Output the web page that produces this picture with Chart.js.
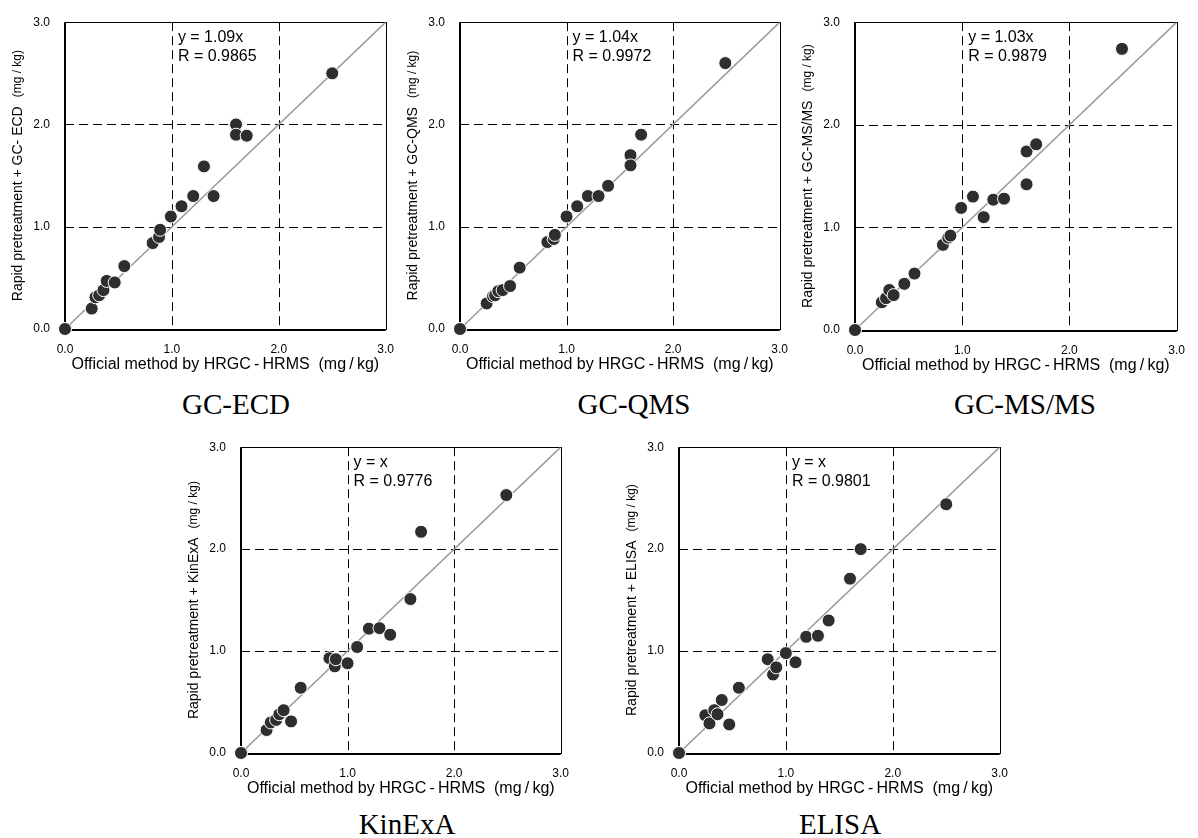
<!DOCTYPE html>
<html><head><meta charset="utf-8">
<script src="https://cdn.jsdelivr.net/npm/chart.js@4.4.1/dist/chart.umd.min.js"></script>
<style>
html,body{margin:0;padding:0;background:#fff;}
body{width:1198px;height:838px;position:relative;overflow:hidden;}
canvas{position:absolute;}
.ttl{position:absolute;font-family:"Liberation Serif","Times New Roman",serif;font-size:29px;line-height:29px;color:#000;transform:translateX(-50%);white-space:nowrap;}
</style></head><body>
<script>
// ---- data ----
const axisTicks = [0, 1, 2, 3];
const panelTitles = ["GC-ECD", "GC-QMS", "GC-MS/MS", "KinExA", "ELISA"];
const yTitleMain = ["Rapid pretreatment + GC- ECD", "Rapid pretreatment + GC-QMS", "Rapid pretreatment + GC-MS/MS", "Rapid pretreatment + KinExA", "Rapid pretreatment + ELISA"];
const yTitleUnit = "(mg / kg)";
const xTitle = "Official method by HRGC\u2009-\u2009HRMS  (mg\u2009/\u2009kg)";
const equations = ["y = 1.09x", "y = 1.04x", "y = 1.03x", "y = x", "y = x"];
const rLabels = ["R = 0.9865", "R = 0.9972", "R = 0.9879", "R = 0.9776", "R = 0.9801"];
const lineX = [0, 3];
const lineY = [0, 3];

const ecdX = [0, 0.25, 0.285, 0.32, 0.36, 0.39, 0.465, 0.555, 0.82, 0.88, 0.89, 0.99, 1.09, 1.20, 1.30, 1.39, 1.60, 1.60, 1.70, 2.50];
const ecdY = [0, 0.20, 0.31, 0.33, 0.38, 0.47, 0.455, 0.615, 0.84, 0.90, 0.97, 1.10, 1.20, 1.30, 1.59, 1.30, 2.00, 1.90, 1.89, 2.50];

const qmsX = [0, 0.25, 0.31, 0.33, 0.36, 0.40, 0.47, 0.56, 0.82, 0.88, 0.89, 1.00, 1.10, 1.20, 1.30, 1.39, 1.60, 1.60, 1.70, 2.49];
const qmsY = [0, 0.25, 0.32, 0.33, 0.37, 0.38, 0.42, 0.60, 0.85, 0.88, 0.92, 1.10, 1.20, 1.30, 1.30, 1.40, 1.70, 1.60, 1.90, 2.60];

const msmsX = [0, 0.25, 0.29, 0.32, 0.36, 0.46, 0.555, 0.82, 0.87, 0.89, 0.99, 1.10, 1.20, 1.29, 1.39, 1.60, 1.60, 1.69, 2.49];
const msmsY = [0, 0.27, 0.31, 0.39, 0.34, 0.45, 0.55, 0.83, 0.90, 0.92, 1.19, 1.30, 1.10, 1.27, 1.28, 1.74, 1.42, 1.81, 2.74];

const kinexaX = [0, 0.24, 0.28, 0.33, 0.36, 0.40, 0.47, 0.56, 0.83, 0.88, 0.89, 1.00, 1.09, 1.20, 1.30, 1.40, 1.59, 1.69, 2.49];
const kinexaY = [0, 0.225, 0.30, 0.325, 0.38, 0.42, 0.31, 0.64, 0.93, 0.85, 0.92, 0.88, 1.04, 1.22, 1.225, 1.16, 1.51, 2.17, 2.53];

const elisaX = [0, 0.246, 0.285, 0.33, 0.36, 0.40, 0.47, 0.56, 0.83, 0.88, 0.91, 1.00, 1.09, 1.19, 1.30, 1.40, 1.60, 1.70, 2.50];
const elisaY = [0, 0.37, 0.29, 0.42, 0.38, 0.52, 0.28, 0.64, 0.92, 0.77, 0.84, 0.98, 0.89, 1.14, 1.15, 1.30, 1.71, 2.00, 2.44];

const seriesX = [ecdX, qmsX, msmsX, kinexaX, elisaX];
const seriesY = [ecdY, qmsY, msmsY, kinexaY, elisaY];

// ---- layout (plot-area rectangles in page pixels) ----
const layout = [
  {l: 65,  t: 17,  r: 398,  b: 329, tx: 236,  ty: 390},
  {l: 460, t: 17,  r: 792,  b: 329, tx: 634,  ty: 390},
  {l: 855, t: 17,  r: 1189, b: 330, tx: 1025, ty: 390},
  {l: 241, t: 442, r: 573,  b: 753, tx: 407,  ty: 810},
  {l: 679, t: 442, r: 1012, b: 753, tx: 840,  ty: 810}
];
const ML = 64, MT = 17, MR = 9, MB = 50;
const SANS = '"Liberation Sans", Arial, sans-serif';

const framePlugin = {
  id: 'frame',
  beforeDatasetsDraw(chart) {
    const {ctx, chartArea: a, scales: {x, y}} = chart;
    ctx.save();
    ctx.strokeStyle = '#000';
    ctx.lineWidth = 1;
    ctx.setLineDash([9, 5]);
    axisTicks.forEach(v => {
      if (v === 0) return;
      const px = Math.round(x.getPixelForValue(v)) + 0.5;
      ctx.beginPath(); ctx.moveTo(px, a.top); ctx.lineTo(px, a.bottom); ctx.stroke();
      const py = Math.round(y.getPixelForValue(v)) + 0.5;
      ctx.beginPath(); ctx.moveTo(a.left, py); ctx.lineTo(a.right, py); ctx.stroke();
    });
    ctx.setLineDash([]);
    ctx.strokeRect(Math.round(a.left) + 0.5, Math.round(a.top) + 0.5, Math.round(a.right - a.left), Math.round(a.bottom - a.top));
    ctx.lineWidth = 2;
    ctx.beginPath();
    ctx.moveTo(a.left, a.top); ctx.lineTo(a.left, a.bottom + 1); ctx.lineTo(a.right, a.bottom + 1);
    ctx.stroke();
    ctx.restore();
  },
  afterDraw(chart) {
    const {ctx, chartArea: a, scales: {x}} = chart;
    const i = chart.options.plugins.frame.idx;
    ctx.save();
    ctx.fillStyle = '#000';
    // annotation
    ctx.font = '16px ' + SANS;
    ctx.textAlign = 'left';
    ctx.textBaseline = 'middle';
    const ax = x.getPixelForValue(1) + 6;
    ctx.fillText(equations[i], ax, a.top + 15);
    ctx.fillText(rLabels[i], ax, a.top + 34);
    // x title
    ctx.textAlign = 'center';
    ctx.fillText(xTitle, (a.left + a.right) / 2, a.bottom + 36);
    // y title
    ctx.translate(a.left - 47, (a.top + a.bottom) / 2);
    ctx.rotate(-Math.PI / 2);
    ctx.font = '14px ' + SANS;
    const w1 = ctx.measureText(yTitleMain[i]).width;
    ctx.font = '12px ' + SANS;
    const w2 = ctx.measureText(yTitleUnit).width;
    const gap = 9;
    const total = w1 + gap + w2;
    ctx.textAlign = 'left';
    ctx.font = '14px ' + SANS;
    ctx.fillText(yTitleMain[i], -total / 2, 0);
    ctx.font = '12px ' + SANS;
    ctx.fillText(yTitleUnit, -total / 2 + w1 + gap, 0);
    ctx.restore();
  }
};

layout.forEach((p, i) => {
  const W = (p.r - p.l) + ML + MR;
  const H = (p.b - p.t) + MT + MB;
  const c = document.createElement('canvas');
  c.width = W; c.height = H;
  c.style.left = (p.l - ML) + 'px';
  c.style.top = (p.t - MT) + 'px';
  c.style.width = W + 'px'; c.style.height = H + 'px';
  document.body.appendChild(c);

  const t = document.createElement('div');
  t.className = 'ttl';
  t.textContent = panelTitles[i];
  t.style.left = p.tx + 'px';
  t.style.top = p.ty + 'px';
  document.body.appendChild(t);

  const pts = seriesX[i].map((v, k) => ({x: v, y: seriesY[i][k]}));
  const ref = lineX.map((v, k) => ({x: v, y: lineY[k]}));

  new Chart(c, {
    type: 'scatter',
    data: {
      datasets: [
        {
          data: pts, order: 0, clip: false,
          pointRadius: 6.5, pointHoverRadius: 6.5,
          pointBackgroundColor: '#2e2e2e', pointBorderColor: '#ffffff', pointBorderWidth: 1
        },
        {
          type: 'line', data: ref, order: 1, showLine: true,
          borderColor: '#9a9a9a', borderWidth: 1.5, pointRadius: 0, fill: false
        }
      ]
    },
    options: {
      responsive: false, animation: false, devicePixelRatio: 1,
      layout: {padding: {left: 0, top: MT, right: MR, bottom: 0}},
      plugins: {legend: {display: false}, tooltip: {enabled: false}, frame: {idx: i}},
      events: [],
      scales: {
        x: {
          type: 'linear', min: 0, max: 3,
          afterBuildTicks: s => { s.ticks = axisTicks.map(v => ({value: v})); },
          afterFit: s => { s.height = MB; },
          grid: {display: false, drawTicks: false}, border: {display: false},
          ticks: {padding: 13, color: '#000', font: {family: SANS, size: 12}, maxRotation: 0,
                  callback: v => Number(v).toFixed(1)}
        },
        y: {
          type: 'linear', min: 0, max: 3,
          afterBuildTicks: s => { s.ticks = axisTicks.map(v => ({value: v})); },
          afterFit: s => { s.width = ML; },
          grid: {display: false, drawTicks: false}, border: {display: false},
          ticks: {padding: 15, color: '#000', font: {family: SANS, size: 12},
                  callback: v => Number(v).toFixed(1)}
        }
      }
    },
    plugins: [framePlugin]
  });
});
</script>
</body></html>
